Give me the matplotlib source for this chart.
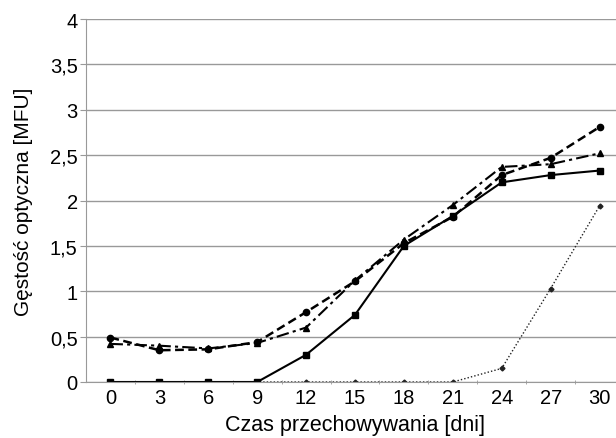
import matplotlib.pyplot as plt
from matplotlib.ticker import FixedLocator

plt.rcParams['font.family'] = ['Liberation Sans', 'DejaVu Sans']

days = [0, 3, 6, 9, 12, 15, 18, 21, 24, 27, 30]
solid_sq = [0, 0, 0, 0, 0.30, 0.74, 1.50, 1.83, 2.20, 2.28, 2.33]
dashed_circ = [0.49, 0.35, 0.36, 0.44, 0.77, 1.11, 1.53, 1.82, 2.28, 2.47, 2.81]
dashdot_tri = [0.42, 0.40, 0.37, 0.43, 0.60, 1.12, 1.57, 1.95, 2.37, 2.40, 2.52]
dotted_dot = [0, 0, 0, 0, 0, 0, 0, 0, 0.15, 1.03, 1.94]
yticks = [0, 0.5, 1, 1.5, 2, 2.5, 3, 3.5, 4]
ytick_labels = ["0", "0,5", "1", "1,5", "2", "2,5", "3", "3,5", "4"]

fig = plt.figure(figsize=(6.16, 4.39), dpi=100)
ax = fig.add_axes([86 / 616, 1 - 383 / 439, (624 - 86) / 616, (383 - 20) / 439])

ax.plot(days, dotted_dot, color="#222222", linestyle=(0, (1, 1.5)), linewidth=1,
        marker="D", markersize=2.5)
ax.plot(days, solid_sq, color="black", linestyle="-", linewidth=1.5,
        marker="s", markersize=4.5)
ax.plot(days, dashdot_tri, color="black", linestyle=(0, (6, 2, 1.5, 2)), linewidth=1.5,
        marker="^", markersize=5)
ax.plot(days, dashed_circ, color="black", linestyle=(0, (3.5, 1.8)), linewidth=1.8,
        marker="o", markersize=4.5)

ax.set_xlim(-1.5, 31.5)
ax.set_ylim(0, 4)
ax.set_xticks(days)
ax.set_xticklabels([str(d) for d in days], fontsize=14.5)
ax.xaxis.set_minor_locator(FixedLocator([d + 1.5 for d in days[:-1]]))
ax.tick_params(axis="x", which="major", length=0, pad=4)
ax.tick_params(axis="x", which="minor", length=3, direction="inout", color="#999999")
ax.set_yticks(yticks)
ax.set_yticklabels(ytick_labels, fontsize=14.5)
ax.tick_params(axis="y", length=4, direction="out", color="#999999", pad=2)

ax.grid(axis="y", color="#999999", linewidth=1)
ax.set_axisbelow(True)
for side in ["top", "right"]:
    ax.spines[side].set_visible(False)
ax.spines["left"].set_color("#999999")
ax.spines["bottom"].set_color("#999999")

ax.set_xlabel("Czas przechowywania [dni]", fontsize=15.5, labelpad=5.5)
ax.set_ylabel("Gęstość optyczna [MFU]", fontsize=15, labelpad=12)

fig.savefig("out.png", dpi=100)
